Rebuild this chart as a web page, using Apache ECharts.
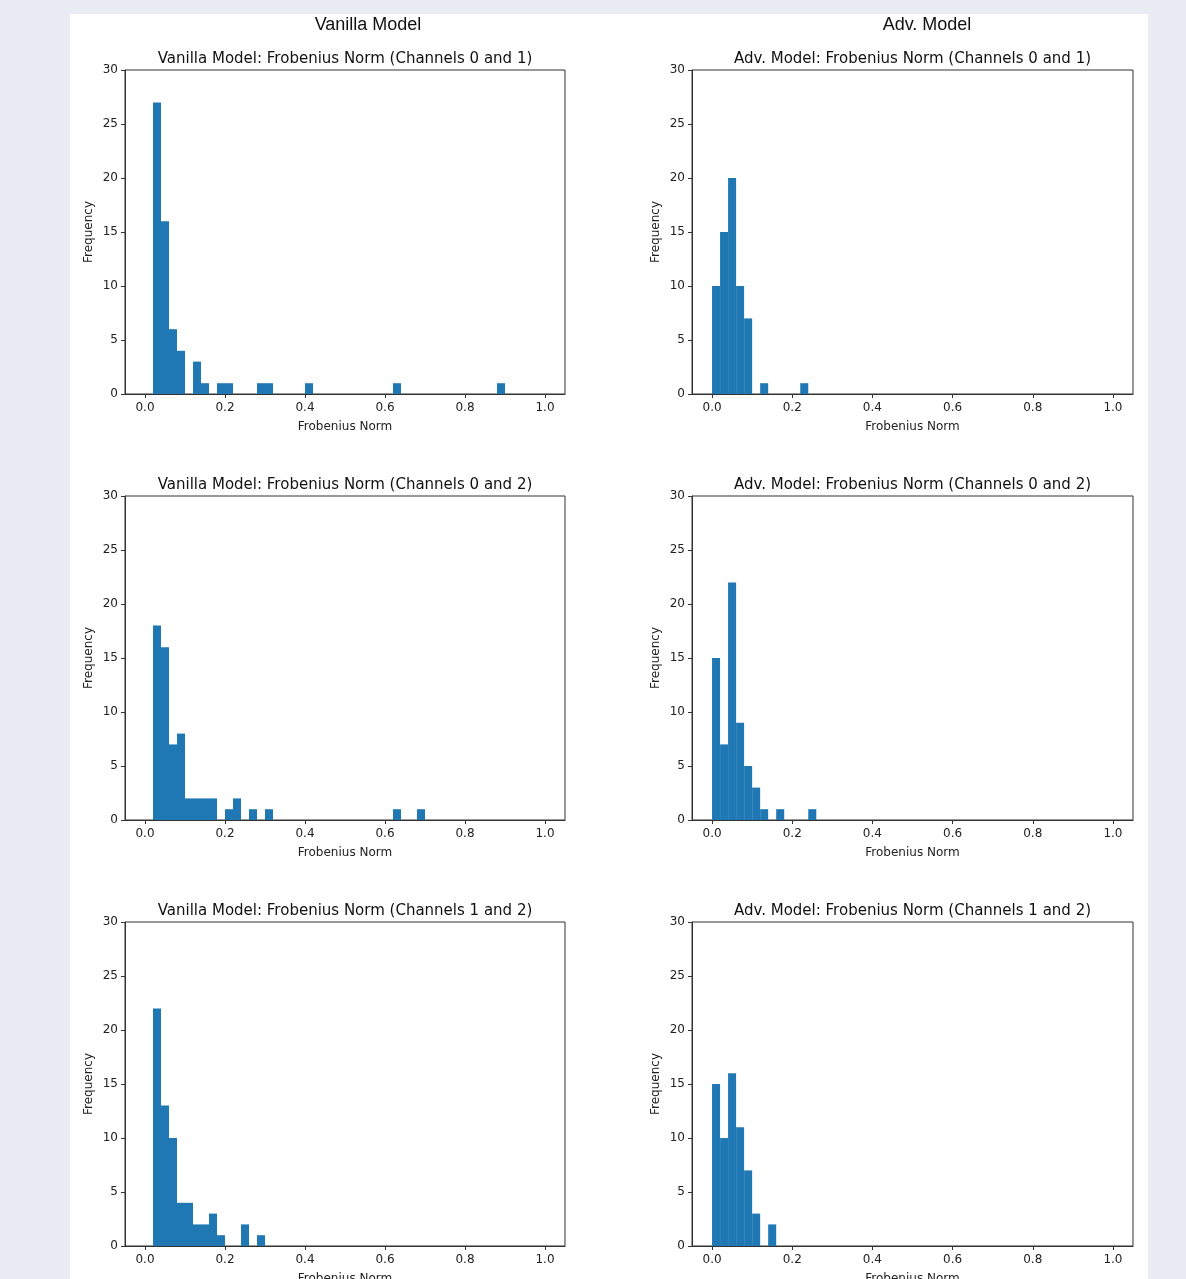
<!DOCTYPE html>
<html>
<head>
<meta charset="utf-8">
<title>Frobenius Norm</title>
<script src="https://cdn.jsdelivr.net/npm/echarts@6/dist/echarts.min.js"></script>
<style>
html,body{margin:0;padding:0;background:#e9edf3;}
#main{width:1186px;height:1279px;}
</style>
</head>
<body>
<div id="main"></div>
<script>
var BIN_W=0.02;
var X_TICKS=[0,0.2,0.4,0.6,0.8,1.0];
var COL_TITLES=["Vanilla Model","Adv. Model"];
var PAIRS=["0 and 1","0 and 2","1 and 2"];
// counts per bin, bin i starts at i*BIN_W
var vanilla01=[0,27,16,6,4,0,3,1,0,1,1,0,0,0,1,1,0,0,0,0,1,0,0,0,0,0,0,0,0,0,0,1,0,0,0,0,0,0,0,0,0,0,0,0,1];
var vanilla02=[0,18,16,7,8,2,2,2,2,0,1,2,0,1,0,1,0,0,0,0,0,0,0,0,0,0,0,0,0,0,0,1,0,0,1];
var vanilla12=[0,22,13,10,4,4,2,2,3,1,0,0,2,0,1];
var adv01=[10,15,20,10,7,0,1,0,0,0,0,1];
var adv02=[15,7,22,9,5,3,1,0,1,0,0,0,1];
var adv12=[15,10,16,11,7,3,0,2];

function JHistData(counts){
	var d=[];
	for(var i=0;i<counts.length;i++){
		if(counts[i]>0){
			d[d.length]=[i*BIN_W,counts[i]];
		}
	}
	return d;
}
function JRenderBin(params,api){
	var x0=api.value(0);
	var h=api.value(1);
	var p0=api.coord([x0,h]);
	var p1=api.coord([x0+BIN_W,0]);
	return {
		type:"rect",
		shape:{x:p0[0],y:p0[1],width:p1[0]-p0[0],height:p1[1]-p0[1]},
		style:{fill:"#1f77b4"}
	};
}

var panels=[
	[vanilla01,adv01],
	[vanilla02,adv02],
	[vanilla12,adv12]
];
var colLeft=[125,692];
var colWidth=[440,441];
var colTitleX=[368,927];
var rowTop=[70,496,922];
var plotH=324;
var tickFont="DejaVu Sans";

var grids=[],xAxes=[],yAxes=[],series=[],graphics=[];
graphics.push({type:"rect",shape:{x:70,y:14,width:1078,height:1265},style:{fill:"#ffffff"},z:-10});
for(var c=0;c<2;c++){
	graphics.push({type:"text",x:colTitleX[c],y:25,style:{text:COL_TITLES[c],font:"18px 'Liberation Sans'",fill:"#111",textAlign:"center",textVerticalAlign:"middle"}});
}
for(var r=0;r<3;r++){
	for(var c=0;c<2;c++){
		var k=grids.length;
		grids.push({left:colLeft[c],top:rowTop[r],width:colWidth[c],height:plotH,outerBoundsMode:"none",show:true,borderColor:"#333",borderWidth:1,backgroundColor:"#fff"});
		graphics.push({type:"text",x:colLeft[c]+colWidth[c]/2,y:rowTop[r]-11,style:{text:COL_TITLES[c]+": Frobenius Norm (Channels "+PAIRS[r]+")",font:"15px '"+tickFont+"'",fill:"#111",textAlign:"center",textVerticalAlign:"middle"}});
		xAxes.push({
			gridIndex:k,type:"value",min:-0.05,max:1.05,
			name:"Frobenius Norm",nameLocation:"middle",nameGap:27,
			nameTextStyle:{fontFamily:tickFont,fontSize:12,color:"#222"},
			axisLine:{onZero:false,lineStyle:{color:"#333"}},
			axisTick:{show:true,length:4,customValues:X_TICKS,lineStyle:{color:"#333"}},
			axisLabel:{customValues:X_TICKS,fontFamily:tickFont,fontSize:12,color:"#222",margin:8,formatter:function(v){return v.toFixed(1);}},
			splitLine:{show:false}
		});
		yAxes.push({
			gridIndex:k,type:"value",min:0,max:30,interval:5,
			name:"Frequency",nameLocation:"middle",nameGap:30,nameRotate:90,
			nameTextStyle:{fontFamily:tickFont,fontSize:12,color:"#222"},
			axisLine:{show:true,onZero:false,lineStyle:{color:"#333"}},
			axisTick:{show:true,length:4,lineStyle:{color:"#333"}},
			axisLabel:{fontFamily:tickFont,fontSize:12,color:"#222",margin:7},
			splitLine:{show:false}
		});
		series.push({
			type:"custom",xAxisIndex:k,yAxisIndex:k,
			renderItem:JRenderBin,
			data:JHistData(panels[r][c]),
			silent:true
		});
	}
}

var chart=echarts.init(document.getElementById("main"));
chart.setOption({
	backgroundColor:"#e9edf3",
	animation:false,
	grid:grids,
	xAxis:xAxes,
	yAxis:yAxes,
	series:series,
	graphic:graphics
});
</script>
</body>
</html>
